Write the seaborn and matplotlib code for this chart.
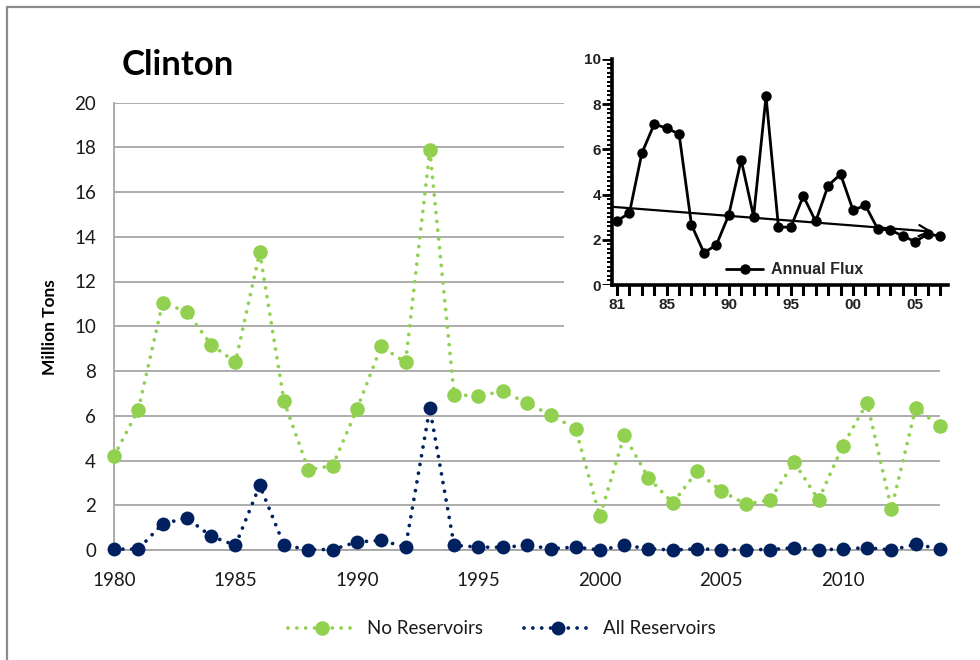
import matplotlib
matplotlib.use("Agg")
import matplotlib.pyplot as plt
import seaborn as sns
import pandas as pd
from matplotlib.patches import Rectangle
from matplotlib.lines import Line2D
from matplotlib.ticker import FixedLocator

# ---- data -------------------------------------------------------------
years = list(range(1980, 2015))
no_reservoirs = [4.2, 6.27, 11.04, 10.65, 9.17, 8.4, 13.31, 6.64, 3.59, 3.77,
                 6.3, 9.1, 8.38, 17.86, 6.94, 6.89, 7.09, 6.57, 6.02, 5.42,
                 1.5, 5.12, 3.22, 2.1, 3.51, 2.64, 2.05, 2.24, 3.92, 2.24,
                 4.66, 6.58, 1.84, 6.35, 5.53]
all_reservoirs = [0.04, 0.04, 1.17, 1.43, 0.61, 0.21, 2.89, 0.21, 0.02, 0.02,
                  0.36, 0.43, 0.13, 6.34, 0.21, 0.13, 0.12, 0.21, 0.06, 0.13,
                  0.0, 0.21, 0.06, 0.0, 0.05, 0.02, 0.02, 0.02, 0.1, 0.0,
                  0.05, 0.1, 0.0, 0.25, 0.05]
series_labels = ["No Reservoirs", "All Reservoirs"]
main_xticks = [1980, 1985, 1990, 1995, 2000, 2005, 2010]
main_yticks = list(range(0, 21, 2))

# inset: annual flux record with its linear trend
flux_years = list(range(1981, 2008))
annual_flux = [2.84, 3.18, 5.83, 7.12, 6.94, 6.68, 2.66, 1.43, 1.77, 3.10,
               5.54, 3.03, 8.35, 2.56, 2.56, 3.94, 2.81, 4.40, 4.90, 3.32,
               3.52, 2.47, 2.44, 2.17, 1.92, 2.25, 2.17]
trend_years = [1980.6, 2006.4]
trend_values = [3.46, 2.36]
inset_tick_years = [1981, 1985, 1990, 1995, 2000, 2005]
inset_tick_labels = ["81", "85", "90", "95", "00", "05"]
inset_minor_years = list(range(1981, 2008))
inset_yticks = [0, 2, 4, 6, 8, 10]
inset_minor_y = [i / 5 for i in range(0, 51)]

GREEN = "#92D050"
NAVY = "#002060"
GRID = "#a6a6a6"
TEXT = "#1a1a1a"

sns.set_style("white")
plt.rcParams["font.family"] = ["Lato", "DejaVu Sans"]

W, H = 980, 660
fig = plt.figure(figsize=(W / 100, H / 100), dpi=100)


def fx(px):
    return px / W


def fy(py):
    return 1 - py / H


# ---- main panel -------------------------------------------------------
ax = fig.add_axes([fx(114), fy(550), fx(940) - fx(114), fy(102.5) - fy(550)])
df = pd.DataFrame({"year": years,
                   series_labels[0]: no_reservoirs,
                   series_labels[1]: all_reservoirs})

dot = (0, (0.01, 2.35))
sns.lineplot(data=df, x="year", y=series_labels[0], ax=ax, color=GREEN,
             marker="o", markersize=10.5, markeredgewidth=0, lw=2.7,
             linestyle=dot, dash_capstyle="round", label=series_labels[0],
             errorbar=None, zorder=4, clip_on=False)
sns.lineplot(data=df, x="year", y=series_labels[1], ax=ax, color=NAVY,
             marker="o", markersize=10, markeredgewidth=0, lw=2.7,
             linestyle=dot, dash_capstyle="round", label=series_labels[1],
             errorbar=None, zorder=5, clip_on=False)

ax.set_xlim(1980, 2014)
ax.set_ylim(0, 20)
ax.xaxis.set_major_locator(FixedLocator(main_xticks))
ax.yaxis.set_major_locator(FixedLocator(main_yticks))
ax.yaxis.grid(True, color=GRID, lw=1.3)
ax.xaxis.grid(False)
ax.set_axisbelow(True)
for s in ["top", "right"]:
    ax.spines[s].set_visible(False)
for s in ["left", "bottom"]:
    ax.spines[s].set_color(GRID)
    ax.spines[s].set_linewidth(1.3)
ax.tick_params(axis="both", length=0, labelsize=13.5, labelcolor=TEXT)
ax.tick_params(axis="y", pad=13)
ax.tick_params(axis="x", pad=16)
ax.set_xlabel("")
ax.set_ylabel("")

leg = ax.legend(loc="center", bbox_to_anchor=(fx(502), fy(629)),
                bbox_transform=fig.transFigure, ncol=2, frameon=False,
                fontsize=13.5, handlelength=3.6, handletextpad=0.6,
                columnspacing=2.2, labelcolor=TEXT)

fig.text(fx(122), fy(65), "Clinton", fontsize=25, fontweight="bold",
         ha="left", va="center", color="black")
fig.text(fx(50), fy(327), "Million Tons", rotation=90, fontsize=12.5,
         fontweight="bold", ha="center", va="center", color="black")

# outer frame of the chart area
fig.add_artist(Line2D([fx(7), fx(7)], [fy(7), 0], transform=fig.transFigure,
                      color="#8c8c8c", lw=1.6))
fig.add_artist(Line2D([fx(7), 1], [fy(7), fy(7)], transform=fig.transFigure,
                      color="#8c8c8c", lw=1.6))

# white backing for the inset panel
fig.add_artist(Rectangle((fx(564), fy(340)), 1 - fx(564), fy(30) - fy(340),
                         transform=fig.transFigure, facecolor="white",
                         edgecolor="none", zorder=2))

# ---- inset panel ------------------------------------------------------
inset_pos = [fx(612), fy(285), fx(948) - fx(612), fy(59) - fy(285)]
inset_xlim = (1980.6, 2007.65)
inset_ylim = (0, 10)
label_font = {"family": ["Liberation Sans", "DejaVu Sans"], "weight": "bold"}

axi = fig.add_axes(inset_pos, zorder=3)
axi.patch.set_alpha(0)
sns.lineplot(x=flux_years, y=annual_flux, ax=axi, color="black", marker="o",
             markersize=7.5, markeredgewidth=0, lw=2.0, label="Annual Flux",
             errorbar=None)
axi.annotate("", xy=(trend_years[1], trend_values[1]),
             xytext=(trend_years[0], trend_values[0]),
             arrowprops=dict(arrowstyle="->", lw=1.6, color="black",
                             mutation_scale=20, shrinkA=0, shrinkB=0))
axi.set_xlim(*inset_xlim)
axi.set_ylim(*inset_ylim)
for s in ["top", "right"]:
    axi.spines[s].set_visible(False)
for s in ["left", "bottom"]:
    axi.spines[s].set_color("black")
    axi.spines[s].set_linewidth(2.6)

axi.xaxis.set_major_locator(FixedLocator(inset_tick_years))
axi.yaxis.set_major_locator(FixedLocator(inset_yticks))
axi.set_xticklabels(inset_tick_labels, fontdict=label_font)
axi.set_yticklabels([str(v) for v in inset_yticks], fontdict=label_font)
axi.tick_params(axis="both", which="both", length=0, labelsize=11,
                labelcolor="#222222")
axi.tick_params(axis="x", pad=9)
axi.tick_params(axis="y", pad=8)
axi.grid(False)
axi.set_xlabel("")
axi.set_ylabel("")
axi.legend(loc="center left", bbox_to_anchor=(0.34, 0.068),
           frameon=False, handlelength=2.3, handletextpad=0.5,
           borderpad=0, borderaxespad=0,
           prop={"family": ["Liberation Sans", "DejaVu Sans"],
                 "weight": "bold", "size": 11.5})

# comb-style tick strips along the inset's axes: one mark per year on x,
# one every 0.2 on y (longer at the labelled values)
x_strip = fig.add_axes([fx(612), fy(296), fx(948) - fx(612), fy(285) - fy(296)],
                       zorder=4)
x_strip.set_xlim(*inset_xlim)
x_strip.set_ylim(0, 1)
x_strip.vlines(inset_minor_years, 0, 1, colors="black", lw=2.2)
x_strip.set_axis_off()

y_strip = fig.add_axes([fx(602), fy(285), fx(612) - fx(602), fy(59) - fy(285)],
                       zorder=4)
y_strip.set_xlim(0, 1)
y_strip.set_ylim(*inset_ylim)
y_strip.hlines(inset_minor_y, 0.45, 1, colors="black", lw=1.4)
y_strip.hlines(inset_yticks, 0, 1, colors="black", lw=2.0)
y_strip.set_axis_off()

fig.savefig("out.png", dpi=100, facecolor="white")
